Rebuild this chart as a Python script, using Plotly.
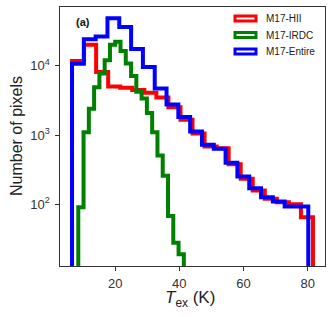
import plotly.graph_objects as go

# ---- data ----
hii_edges = [6.57, 10.32, 14.08, 17.83, 21.59, 25.34, 29.09, 32.85, 36.60, 40.36, 44.11,
             47.86, 51.62, 55.37, 59.13, 62.88, 66.63, 70.39, 74.14, 77.90, 81.65]
hii_counts = [11700, 20000, 8100, 5000, 4800, 4470, 4070, 3470, 2510, 1660,
              1050, 685, 645, 380, 234, 158, 120, 107, 100, 65]

irdc_edges = [8.52, 10.16, 11.81, 13.45, 15.10, 16.74, 18.39, 20.03, 21.68, 23.32, 24.97,
              26.61, 28.25, 29.90, 31.54, 33.19, 34.83, 36.48, 38.12, 39.77, 41.41]
irdc_counts = [91, 1100, 2400, 4900, 7700, 12000, 20000, 22200, 16300, 10800,
               7100, 4200, 3350, 2080, 1100, 505, 258, 68, 28, 19]

entire_edges = [6.57, 10.25, 13.93, 17.61, 21.29, 24.98, 28.66, 32.34, 36.02, 39.70, 43.38,
                47.06, 50.74, 54.42, 58.10, 61.79, 65.47, 69.15, 72.83, 76.51, 80.19]
entire_counts = [10700, 24000, 26300, 48400, 36300, 17400, 9550, 4680, 2750, 1820,
                 1120, 724, 631, 398, 251, 170, 126, 110, 93, 93]

series_names = ["M17-HII", "M17-IRDC", "M17-Entire"]
series_colors = ["#ff0000", "#008000", "#0000ff"]

x_ticks = [20, 40, 60, 80]
y_ticks = [100, 1000, 10000]
y_tick_text = ["10<sup>2</sup>", "10<sup>3</sup>", "10<sup>4</sup>"]

FLOOR = 1.0  # outline drops to zero (below visible log range)


def step_outline(edges, counts):
    xs, ys = [edges[0]], [FLOOR]
    for i, c in enumerate(counts):
        xs += [edges[i], edges[i + 1]]
        ys += [c, c]
    xs.append(edges[-1])
    ys.append(FLOOR)
    return xs, ys


W, H = 332, 317
ML, MR, MT, MB = 60, 7, 7, 51
PW, PH = W - ML - MR, H - MT - MB

fig = go.Figure()
for (edges, counts), name, col in zip(
        [(hii_edges, hii_counts), (irdc_edges, irdc_counts), (entire_edges, entire_counts)],
        series_names, series_colors):
    xs, ys = step_outline(edges, counts)
    fig.add_trace(go.Scatter(x=xs, y=ys, mode="lines", name=name,
                             line=dict(color=col, width=4), showlegend=False,
                             hoverinfo="skip"))

FONT = "Liberation Sans, Arial, sans-serif"
AX = "#333333"


def px_x(p):
    return (p - ML) / PW


def px_y(p):
    return 1 - (p - MT) / PH


shapes = []
annotations = []
legend_rows = [18.5, 35.0, 51.5]
for name, col, yc in zip(series_names, series_colors, legend_rows):
    shapes.append(dict(type="rect", xref="paper", yref="paper",
                       x0=px_x(235.0), x1=px_x(256.0), y0=px_y(yc + 2.5), y1=px_y(yc - 2.5),
                       line=dict(color=col, width=3), fillcolor="white", layer="above"))
    annotations.append(dict(text=name, xref="paper", yref="paper", x=px_x(264.0), y=px_y(yc),
                            xanchor="left", yanchor="middle", showarrow=False,
                            font=dict(family=FONT, size=10, color="#222222")))

annotations.append(dict(text="<b>(a)</b>", xref="paper", yref="paper", x=px_x(82.5), y=px_y(22),
                        xanchor="center", yanchor="middle", showarrow=False,
                        font=dict(family=FONT, size=11, color="#111111")))
annotations.append(dict(text="Number of pixels", xref="paper", yref="paper", x=0, y=0.5,
                        xshift=-(ML - 16.5), xanchor="center", yanchor="middle", textangle=-90,
                        showarrow=False, font=dict(family=FONT, size=16, color="#222222")))
annotations.append(dict(text="<i>T</i><sub>ex</sub> (K)", xref="paper", yref="paper",
                        x=px_x(190), y=0, yshift=-(299 - (H - MB)), xanchor="center",
                        yanchor="middle", showarrow=False,
                        font=dict(family=FONT, size=17, color="#222222")))

fig.update_layout(
    width=W, height=H,
    margin=dict(l=ML, r=MR, t=MT, b=MB),
    paper_bgcolor="white", plot_bgcolor="white",
    showlegend=False, hovermode=False,
    shapes=shapes, annotations=annotations,
    xaxis=dict(range=[2.82, 85.4], tickvals=x_ticks, ticks="outside", ticklen=3.5,
               tickwidth=1, tickcolor=AX, showline=True, linecolor=AX, linewidth=1.2,
               mirror=True, showgrid=False, zeroline=False, ticklabelstandoff=2,
               tickfont=dict(family=FONT, size=13, color="#333333")),
    yaxis=dict(type="log", range=[1.11, 4.847], tickvals=y_ticks, ticktext=y_tick_text,
               ticks="outside", ticklen=3.5, tickwidth=1, tickcolor=AX, showline=True,
               linecolor=AX, linewidth=1.2, mirror=True, showgrid=False, zeroline=False,
               ticklabelstandoff=3,
               tickfont=dict(family=FONT, size=13, color="#333333")),
)

fig.write_html("out.html", config={"displayModeBar": False, "staticPlot": True},
               post_script="document.body.style.margin='0px';document.body.style.padding='0px';")
